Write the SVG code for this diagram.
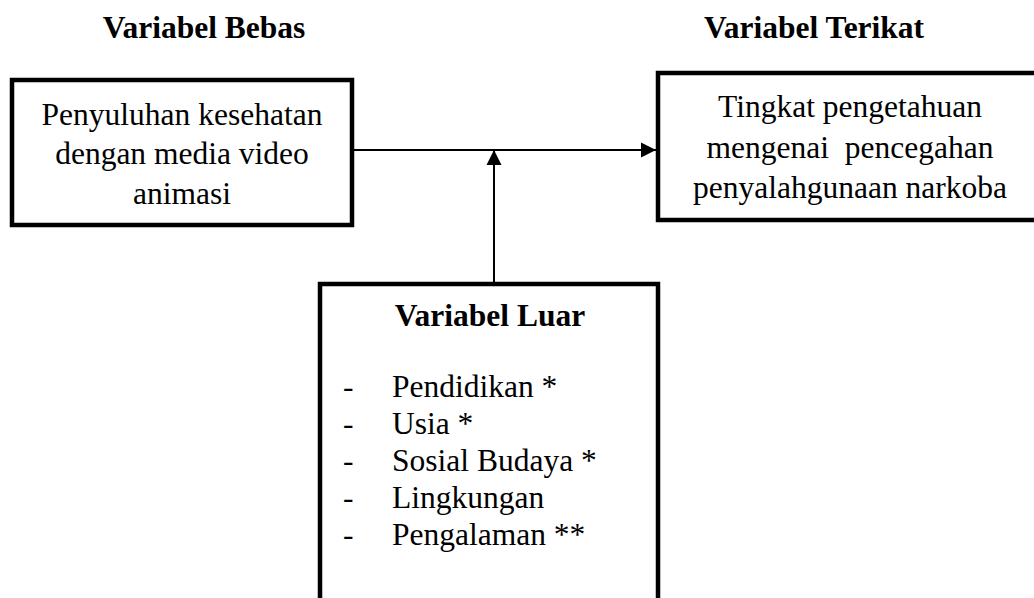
<svg xmlns="http://www.w3.org/2000/svg" width="1034" height="598" viewBox="0 0 1034 598">
<style>
text{font-size:31.5px;fill:#000}
.h{font-weight:bold}
.c{text-anchor:middle}
.box{fill:#fff;stroke:#000;stroke-width:4.5}
.ln{stroke:#000;stroke-width:2;fill:none}
</style>
<defs>
<marker id="ah" markerUnits="userSpaceOnUse" markerWidth="16" markerHeight="16" refX="15" refY="8" orient="auto">
<path d="M0,0.5 L15,8 L0,15.5 Z" fill="#000"/>
</marker>
</defs>
<rect width="1034" height="598" fill="#fff"/>
<g font-family="'Liberation Serif', 'DejaVu Serif', serif">
<g id="headers">
<text class="h c" x="204" y="38">Variabel Bebas</text>
<text class="h c" x="814" y="38">Variabel Terikat</text>
</g>
<g id="connectors">
<line class="ln" x1="352" y1="150" x2="656" y2="150" marker-end="url(#ah)"/>
<line class="ln" x1="494" y1="283" x2="494" y2="150" marker-end="url(#ah)"/>
</g>
<g id="node-bebas">
<rect class="box" x="12" y="80" width="340" height="145"/>
<text class="c" x="182" y="125">Penyuluhan kesehatan</text>
<text class="c" x="182" y="164">dengan media video</text>
<text class="c" x="182" y="204">animasi</text>
</g>
<g id="node-terikat">
<rect class="box" x="658" y="73" width="390" height="147"/>
<text class="c" x="850" y="117">Tingkat pengetahuan</text>
<text class="c" x="850" y="158" xml:space="preserve">mengenai  pencegahan</text>
<text class="c" x="850" y="198">penyalahgunaan narkoba</text>
</g>
<g id="node-luar">
<rect class="box" x="320" y="284" width="338" height="330"/>
<text class="h c" x="490" y="326">Variabel Luar</text>
<text x="343" y="397">-</text><text x="392" y="397">Pendidikan *</text>
<text x="343" y="434">-</text><text x="392" y="434">Usia *</text>
<text x="343" y="471">-</text><text x="392" y="471">Sosial Budaya *</text>
<text x="343" y="508">-</text><text x="392" y="508">Lingkungan</text>
<text x="343" y="545">-</text><text x="392" y="545">Pengalaman **</text>
</g>
</g>
</svg>
